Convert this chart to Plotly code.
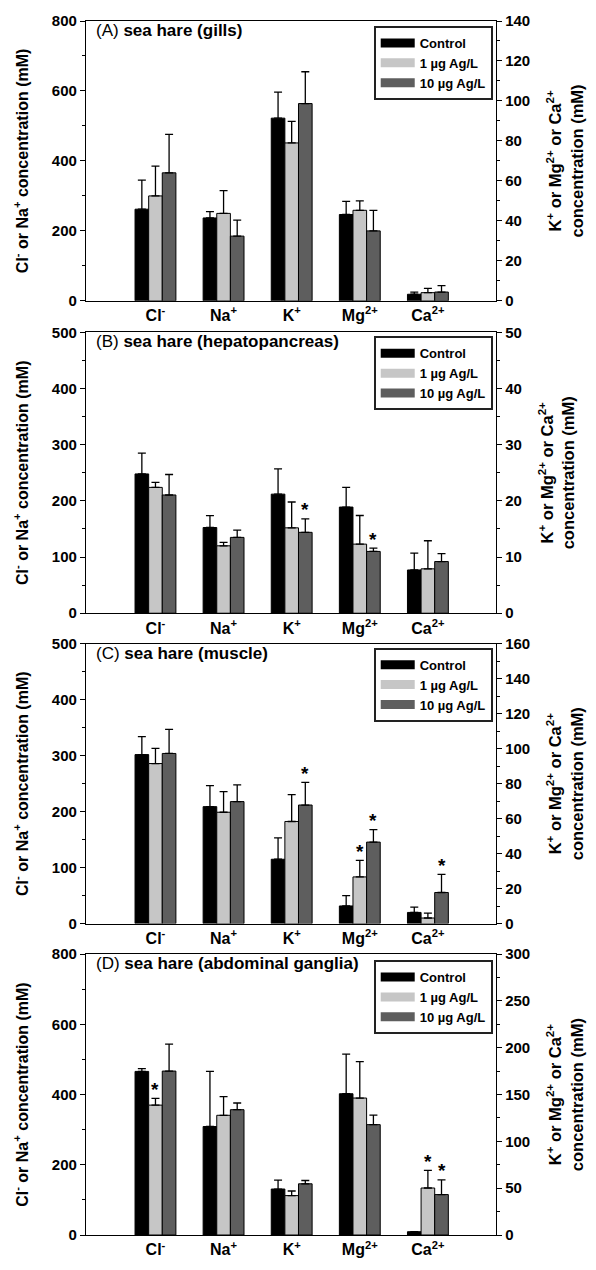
import plotly.graph_objects as go

# ---------------- data ----------------
ions = ["Cl<sup>-</sup>", "Na<sup>+</sup>", "K<sup>+</sup>", "Mg<sup>2+</sup>", "Ca<sup>2+</sup>"]
series_names = ["Control", "1 µg Ag/L", "10 µg Ag/L"]
panel_titles = [
    "(A) <b>sea hare (gills)</b>",
    "(B) <b>sea hare (hepatopancreas)</b>",
    "(C) <b>sea hare (muscle)</b>",
    "(D) <b>sea hare (abdominal ganglia)</b>",
]

# values: Cl-, Na+ on left axis; K+, Mg2+, Ca2+ on right axis
a_control = [262, 237, 91.4, 43.2, 3.3]
a_control_se = [83, 18, 13.0, 6.6, 1.1]
a_1ug = [300, 250, 79.0, 45.3, 4.1]
a_1ug_se = [85, 65, 10.8, 4.7, 2.1]
a_10ug = [366, 185, 98.7, 35.0, 4.4]
a_10ug_se = [110, 46, 15.9, 10.3, 3.2]
a_sig_1ug = [False, False, False, False, False]
a_sig_10ug = [False, False, False, False, False]

b_control = [248, 152.6, 21.2, 18.9, 7.7]
b_control_se = [37, 21, 4.5, 3.5, 3.0]
b_1ug = [224, 120, 15.2, 12.3, 7.9]
b_1ug_se = [9, 6, 4.6, 5.1, 5.0]
b_10ug = [210.5, 135, 14.4, 11.0, 9.2]
b_10ug_se = [36.5, 13, 2.4, 0.6, 1.4]
b_sig_1ug = [False, False, False, False, False]
b_sig_10ug = [False, False, True, True, False]

c_control = [302, 209, 36.8, 10.1, 6.4]
c_control_se = [32, 37.5, 12.2, 5.9, 3.0]
c_1ug = [286, 199, 58.4, 26.7, 3.2]
c_1ug_se = [27, 37, 15.4, 9.5, 2.8]
c_10ug = [304, 218, 67.8, 46.6, 17.8]
c_10ug_se = [43, 30, 13.0, 7.1, 10.4]
c_sig_1ug = [False, False, False, True, False]
c_sig_10ug = [False, False, True, True, True]

d_control = [466, 309, 49.1, 150.9, 3.5]
d_control_se = [8, 157, 9.5, 42.4, 0]
d_1ug = [370, 341, 42.1, 146.3, 50.2]
d_1ug_se = [19, 53, 4.9, 39.0, 18.9]
d_10ug = [467, 357, 54.7, 117.9, 43.2]
d_10ug_se = [77, 19, 3.5, 10.1, 15.7]
d_sig_1ug = [True, False, False, False, True]
d_sig_10ug = [False, False, False, False, True]

# axis ranges / ticks per panel
left_max = [800, 500, 500, 800]
left_dtick = [200, 100, 100, 200]
right_max = [140, 50, 160, 300]
right_dtick = [20, 10, 20, 50]

panels = [
    ([a_control, a_1ug, a_10ug], [a_control_se, a_1ug_se, a_10ug_se], [None, a_sig_1ug, a_sig_10ug]),
    ([b_control, b_1ug, b_10ug], [b_control_se, b_1ug_se, b_10ug_se], [None, b_sig_1ug, b_sig_10ug]),
    ([c_control, c_1ug, c_10ug], [c_control_se, c_1ug_se, c_10ug_se], [None, c_sig_1ug, c_sig_10ug]),
    ([d_control, d_1ug, d_10ug], [d_control_se, d_1ug_se, d_10ug_se], [None, d_sig_1ug, d_sig_10ug]),
]

# ---------------- style ----------------
colors = ["#000000", "#c6c6c6", "#5e5e5e"]
FONT = "Liberation Sans, Arial, sans-serif"
W, H = 596, 1270
ML, MR, MT, MB = 86, 100, 17, 21
plot_h = H - MT - MB
panel_px = [(17, 301), (333, 618), (649, 933), (964, 1249)]
legend_top_px = [22, 337, 653, 970]

def frac(py):
    return (H - MB - py) / plot_h

bar_w = 0.2
offsets = [-0.3, -0.1, 0.1]
xpos = list(range(len(ions)))

fig = go.Figure()
annotations = []

for p, (vals, ses, sigs) in enumerate(panels):
    xa = "x" if p == 0 else f"x{p + 1}"
    yl = f"y{2 * p + 1}" if p > 0 else "y"
    yr = f"y{2 * p + 2}"
    leg = "legend" if p == 0 else f"legend{p + 1}"
    for s in range(3):
        for idx, yax in (([0, 1], yl), ([2, 3, 4], yr)):
            fig.add_trace(go.Bar(
                x=[xpos[i] for i in idx],
                y=[vals[s][i] for i in idx],
                width=bar_w,
                offset=offsets[s],
                marker=dict(color=colors[s], line=dict(color="#000000", width=1)),
                error_y=dict(type="data", symmetric=False,
                             array=[ses[s][i] for i in idx],
                             arrayminus=[0 for _ in idx],
                             color="#000000", thickness=1.3, width=4),
                name=series_names[s],
                showlegend=False,
                xaxis=xa, yaxis=yax,
            ))
        # legend entry (wide swatch)
        fig.add_trace(go.Scatter(
            x=[None], y=[None], mode="lines",
            line=dict(color=colors[s], width=9),
            name=f"<b>{series_names[s]}</b>",
            showlegend=True, legend=leg, xaxis=xa, yaxis=yl,
        ))
        if sigs[s] is not None:
            for i in range(5):
                if sigs[s][i]:
                    yax = yl if i < 2 else yr
                    annotations.append(dict(
                        x=xpos[i] + offsets[s] + bar_w / 2,
                        y=vals[s][i] + ses[s][i],
                        xref=xa, yref=yax, text="<b>*</b>", showarrow=False,
                        yanchor="middle", yshift=9,
                        font=dict(family=FONT, size=19, color="#000000"),
                    ))
    annotations.append(dict(
        x=0.02, y=1, xref=f"{xa} domain", yref=f"{yl} domain",
        text=panel_titles[p], showarrow=False, xanchor="left", yanchor="top",
        yshift=2, font=dict(family=FONT, size=17, color="#000000"),
    ))

layout = dict(
    width=W, height=H,
    margin=dict(l=ML, r=MR, t=MT, b=MB),
    paper_bgcolor="white", plot_bgcolor="white",
    showlegend=True,
    font=dict(family=FONT, color="#000000"),
    annotations=annotations,
)

tickfont = dict(family=FONT, size=15, color="#000000", weight="bold")
for p in range(4):
    top, bot = panel_px[p]
    dom = [frac(bot), frac(top)]
    xk = "xaxis" if p == 0 else f"xaxis{p + 1}"
    ylk = "yaxis" if p == 0 else f"yaxis{2 * p + 1}"
    yrk = f"yaxis{2 * p + 2}"
    yl_id = "y" if p == 0 else f"y{2 * p + 1}"
    xa_id = "x" if p == 0 else f"x{p + 1}"
    layout[xk] = dict(
        domain=[0, 1], anchor=yl_id, range=[-1.02, 5.0],
        tickmode="array", tickvals=xpos, ticktext=[f"<b>{t}</b>" for t in ions],
        ticks="", showline=True, linecolor="#000000", linewidth=1.3, mirror=True,
        showgrid=False, zeroline=False,
        tickfont=dict(family=FONT, size=16, color="#000000", weight="bold"),
    )
    layout[ylk] = dict(
        domain=dom, anchor=xa_id, range=[0, left_max[p]], dtick=left_dtick[p], tick0=0,
        ticks="outside", ticklen=5, tickwidth=1.2, tickcolor="#000000",
        minor=dict(dtick=left_dtick[p] / 2, ticks="outside", ticklen=3, tickcolor="#000000"),
        showline=True, linecolor="#000000", linewidth=1.3, showgrid=False, zeroline=False,
        tickfont=tickfont,
        title=dict(text="<b>Cl<sup>-</sup> or Na<sup>+</sup> concentration (mM)</b>",
                   font=dict(family=FONT, size=16, color="#000000"), standoff=19),
    )
    layout[yrk] = dict(
        domain=dom, anchor=xa_id, overlaying=yl_id, side="right",
        range=[0, right_max[p]], dtick=right_dtick[p], tick0=0,
        ticks="outside", ticklen=5, tickwidth=1.2, tickcolor="#000000",
        minor=dict(dtick=right_dtick[p] / 2, ticks="outside", ticklen=3, tickcolor="#000000"),
        showline=True, linecolor="#000000", linewidth=1.3, showgrid=False, zeroline=False,
        tickfont=tickfont,
        title=dict(text="<b>K<sup>+</sup> or Mg<sup>2+</sup> or Ca<sup>2+</sup><br>concentration (mM)</b>",
                   font=dict(family=FONT, size=16.5, color="#000000"), standoff=20),
    )
    lk = "legend" if p == 0 else f"legend{p + 1}"
    layout[lk] = dict(
        x=0.992, xanchor="right", xref="paper",
        y=frac(legend_top_px[p]), yanchor="top", yref="paper",
        bgcolor="white", bordercolor="#222222", borderwidth=2,
        font=dict(family=FONT, size=13, color="#000000"),
        itemwidth=34, tracegroupgap=0, traceorder="normal",
    )

fig.update_layout(**layout)
fig.write_html("out.html", config={"displayModeBar": False},
               post_script="document.body.style.margin='0';document.body.style.padding='0';")
